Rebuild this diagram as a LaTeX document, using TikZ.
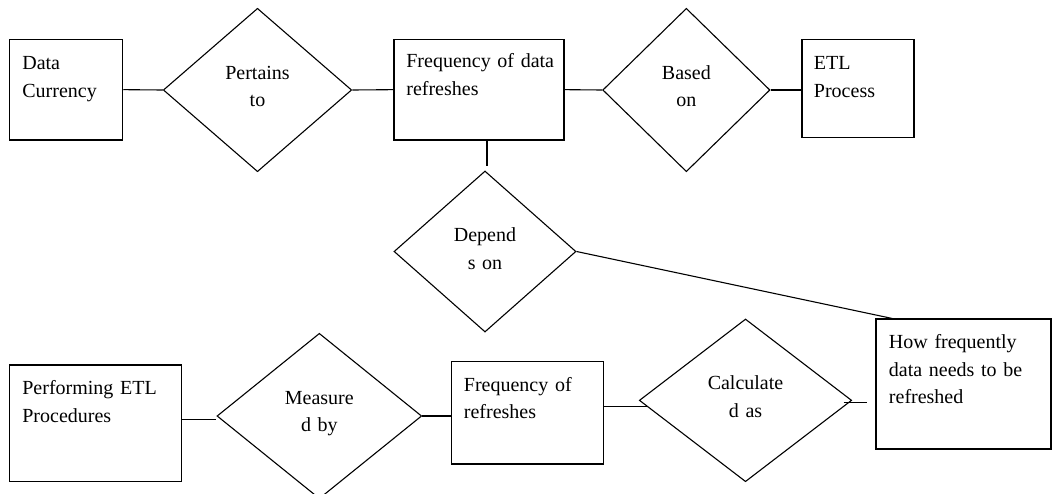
\documentclass[tikz,border=0pt]{standalone}
\usepackage{fontspec}
\setmainfont{Liberation Serif}
\usetikzlibrary{shapes.geometric}
\begin{document}
\begin{tikzpicture}[x=1pt, y=-1pt,
  entity/.style={draw=black, line width=1.1pt, rectangle, inner sep=0pt},
  relation/.style={draw=black, line width=1.1pt, diamond, inner sep=0pt},
  link/.style={draw=black, line width=1.1pt},
  etext/.style={inner sep=0pt, anchor=base west, text width=178pt, align=left,
    font=\fontsize{20}{27.6}\selectfont, text=black},
  rtext/.style={inner sep=0pt, anchor=base, text width=140pt, align=center,
    font=\fontsize{20}{27.6}\selectfont, text=black}]
\useasboundingbox (0,0) rectangle (1054,493);

% entities
\node[entity, minimum width=113.4pt, minimum height=100.7pt] (dc)  at (66,89.65) {};
\node[entity, minimum width=170pt,   minimum height=100.7pt] (fd)  at (479,89.65) {};
\node[entity, minimum width=112pt,   minimum height=98pt]    (etl) at (858,88.3) {};
\node[entity, minimum width=172.4pt, minimum height=116.7pt] (pe)  at (95.5,423.35) {};
\node[entity, minimum width=151.6pt, minimum height=102.3pt] (fr)  at (527.5,412.85) {};
\node[entity, minimum width=175pt,   minimum height=130pt]   (hf)  at (963.5,384) {};

% relationships
\node[relation, minimum width=188.4pt, minimum height=163.4pt] (pt) at (257.5,90) {};
\node[relation, minimum width=167.3pt, minimum height=163.4pt] (bo) at (686.35,90) {};
\node[relation, minimum width=182pt,   minimum height=161pt]   (dp) at (485,251.5) {};
\node[relation, minimum width=204.7pt, minimum height=165.4pt] (mb) at (319.35,416) {};
\node[relation, minimum width=212.4pt, minimum height=162.7pt] (ca) at (745.5,400.35) {};

% entity labels
\node[etext] (dc-t)  at ([xshift=13.4pt,yshift=-30.7pt]dc.north west)  {Data\\Currency};
\node[etext] (fd-t)  at ([xshift=12.7pt,yshift=-29pt]fd.north west)    {Frequency of data\\refreshes};
\node[etext] (etl-t) at ([xshift=12.3pt,yshift=-30.7pt]etl.north west) {ETL\\Process};
\node[etext] (pe-t)  at ([xshift=13.4pt,yshift=-30pt]pe.north west)    {Performing ETL\\Procedures};
\node[etext] (fr-t)  at ([xshift=12.6pt,yshift=-30pt]fr.north west)    {Frequency of\\refreshes};
\node[etext] (hf-t)  at ([xshift=13.3pt,yshift=-30.3pt]hf.north west)  {How frequently\\data needs to be\\refreshed};

% relationship labels
\node[rtext] (pt-t) at ([yshift=10.7pt]pt.center) {Pertains\\to};
\node[rtext] (bo-t) at ([yshift=10.7pt]bo.center) {Based\\on};
\node[rtext] (dp-t) at ([yshift=10pt]dp.center)   {Depend\\s on};
\node[rtext] (mb-t) at ([yshift=11.7pt]mb.center) {Measure\\d by};
\node[rtext] (ca-t) at ([yshift=10.7pt]ca.center) {Calculate\\d as};

% connectors
\draw[link] (dc.east) -- (pt.west);
\draw[link] (pt.east) -- (fd.west);
\draw[link] (fd.east) -- (bo.west);
\draw[link] (bo.east) -- (bo.east -| etl.west);
\draw[link] ([xshift=8pt]fd.south) -- ([xshift=2pt,yshift=4.4pt]dp.north);
\draw[link] (dp.east) -- ([xshift=16.7pt]hf.north west);
\draw[link] ([yshift=3.8pt]pe.east) -- ([yshift=3.8pt]pe.east -| mb.west);
\draw[link] (mb.east) -- (mb.east -| fr.west);
\draw[link] ([yshift=6.1pt]fr.east) -- ([yshift=6.1pt,xshift=9pt]fr.east -| ca.west);
\draw[link] ([xshift=-8.7pt,yshift=-2.3pt]ca.east) -- ([xshift=-8.7pt,yshift=-2.3pt]ca.east -| hf.west);
\end{tikzpicture}
\end{document}
